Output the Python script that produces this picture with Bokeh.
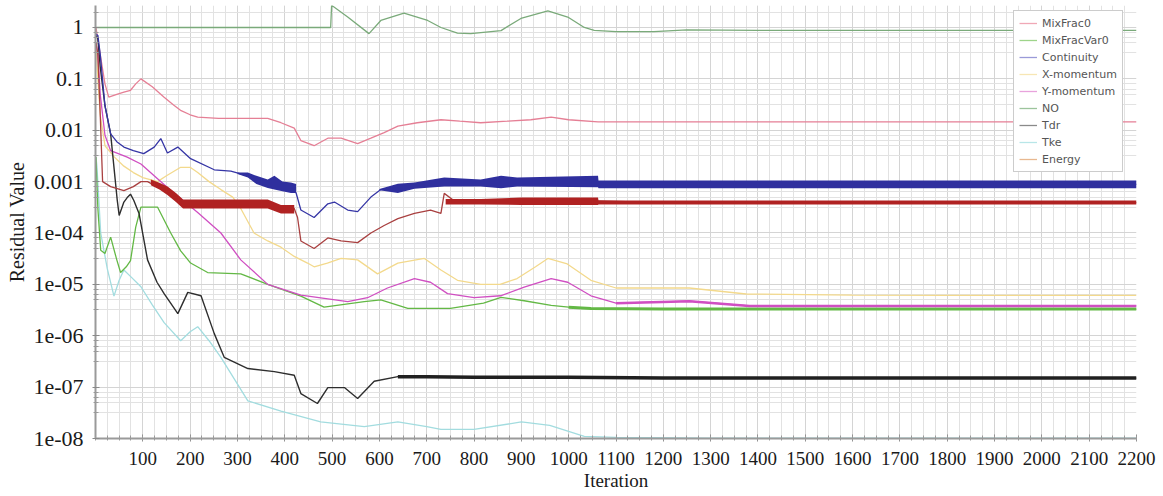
from bokeh.plotting import figure
from bokeh.models import (FixedTicker, CustomJSTickFormatter, Legend, LegendItem, Range1d)
from bokeh.embed import file_html
from bokeh.resources import INLINE

# ---------------- data ----------------
no_it = [1, 497, 499, 533, 578, 603, 652, 702, 730, 765, 793, 857, 899, 956, 998, 1033, 1054, 1100, 1180, 1250, 1400, 1600, 1800, 2000, 2200]
no_val = [1.0, 1.0, 2.7, 1.6, 0.76, 1.37, 1.9, 1.37, 1.0, 0.78, 0.76, 0.87, 1.5, 2.1, 1.6, 1.0, 0.88, 0.83, 0.83, 0.9, 0.88, 0.88, 0.88, 0.88, 0.88]

mf_it = [1, 10, 20, 28, 45, 60, 74, 85, 96, 120, 145, 165, 181, 200, 216, 260, 300, 364, 392, 420, 434, 462, 491, 519, 554, 582, 610, 639, 680, 730, 770, 814, 870, 920, 963, 1000, 1062, 1200, 1500, 1800, 2200]
mf_val = [1.0, 0.3, 0.08, 0.044, 0.05, 0.055, 0.06, 0.08, 0.1, 0.07, 0.044, 0.031, 0.024, 0.02, 0.018, 0.017, 0.017, 0.017, 0.014, 0.011, 0.0063, 0.005, 0.007, 0.007, 0.0055, 0.007, 0.009, 0.012, 0.014, 0.016, 0.015, 0.014, 0.015, 0.016, 0.018, 0.016, 0.0145, 0.0145, 0.0145, 0.0145, 0.0145]

mfv_it = [1, 5, 11, 20, 32, 45, 53, 65, 74, 85, 96, 131, 159, 180, 201, 237, 307, 364, 434, 483, 568, 603, 660, 750, 820, 857, 906, 963, 1000, 1047, 1200, 1500, 2200]
mfv_val = [0.003, 3e-4, 4.6e-5, 4e-5, 8.3e-5, 3e-5, 1.7e-5, 2.2e-5, 2.9e-5, 1.3e-4, 3.2e-4, 3.2e-4, 1e-4, 4.5e-5, 2.6e-5, 1.7e-5, 1.6e-5, 1e-5, 5.9e-6, 3.6e-6, 4.6e-6, 5e-6, 3.4e-6, 3.4e-6, 4.3e-6, 5.6e-6, 4.8e-6, 3.9e-6, 3.6e-6, 3.4e-6, 3.3e-6, 3.3e-6, 3.3e-6]

co_it = [1, 5, 10, 20, 32, 45, 60, 80, 102, 124, 138, 152, 174, 201, 251, 286, 322, 364, 413, 424, 434, 462, 491, 505, 533, 554, 582, 603, 639, 674, 737, 814, 900, 1062, 1200, 1600, 2200]
co_val = [0.75, 0.7, 0.3, 0.03, 0.0085, 0.006, 0.0047, 0.004, 0.0035, 0.0047, 0.0069, 0.0036, 0.0047, 0.0028, 0.0017, 0.0016, 0.0013, 0.0009, 0.00075, 0.0006, 0.00028, 0.0002, 0.00037, 0.0004, 0.00028, 0.00026, 0.0005, 0.0007, 0.00075, 0.00085, 0.001, 0.00095, 0.001, 0.001, 0.00088, 0.00088, 0.00088]
co_b1_it = [300, 322, 340, 364, 378, 395, 413, 424]
co_b1_lo = [0.0014, 0.0012, 0.0009, 0.00075, 0.0007, 0.00065, 0.0006, 0.0006]
co_b1_hi = [0.0015, 0.0015, 0.0013, 0.0011, 0.0013, 0.001, 0.00096, 0.0009]
co_b2_it = [600, 639, 674, 737, 814, 857, 891, 1062, 1063, 2200]
co_b2_lo = [0.00068, 0.0006, 0.00073, 0.0008, 0.0008, 0.00074, 0.0008, 0.00078, 0.00074, 0.00074]
co_b2_hi = [0.00072, 0.00091, 0.00096, 0.0012, 0.0011, 0.0013, 0.0012, 0.0013, 0.00105, 0.00105]

xm_it = [1, 5, 10, 20, 40, 60, 80, 100, 131, 150, 180, 200, 216, 240, 265, 290, 307, 335, 364, 392, 420, 448, 462, 490, 519, 554, 596, 639, 695, 730, 765, 814, 855, 891, 930, 956, 997, 1047, 1100, 1255, 1375, 1600, 1800, 2200]
xm_val = [0.5, 0.1, 0.02, 0.005, 0.003, 0.002, 0.0015, 0.0012, 0.001, 0.0013, 0.0019, 0.0019, 0.0015, 0.001, 0.0007, 0.0005, 0.0003, 1e-4, 7e-5, 5.3e-5, 3.5e-5, 2.6e-5, 2.2e-5, 2.6e-5, 3.2e-5, 3e-5, 1.6e-5, 2.6e-5, 3.2e-5, 1.9e-5, 1.2e-5, 1e-5, 1e-5, 1.3e-5, 2.2e-5, 3.2e-5, 2.5e-5, 1.2e-5, 8.5e-6, 8.5e-6, 6.5e-6, 6.2e-6, 6.1e-6, 6.1e-6]

ym_it = [1, 5, 10, 20, 32, 67, 96, 152, 216, 265, 307, 364, 434, 533, 575, 617, 674, 708, 744, 800, 856, 906, 963, 998, 1047, 1100, 1255, 1382, 1600, 2200]
ym_val = [0.5, 0.3, 0.05, 0.008, 0.004, 0.003, 0.0022, 7.7e-4, 2.5e-4, 1e-4, 3e-5, 1e-5, 6.2e-6, 4.6e-6, 5.5e-6, 8.5e-6, 1.3e-5, 1.1e-5, 6.6e-6, 5.5e-6, 6e-6, 8.8e-6, 1.3e-5, 1.1e-5, 6e-6, 4.3e-6, 4.7e-6, 3.8e-6, 3.8e-6, 3.8e-6]

td_it = [1, 5, 10, 20, 32, 46, 50, 60, 67, 74, 81, 92, 110, 130, 145, 174, 195, 223, 251, 272, 322, 378, 420, 434, 469, 491, 526, 554, 589, 639, 700, 800, 1000, 1200, 2200]
td_val = [0.7, 0.6, 0.17, 0.03, 0.0085, 4.3e-4, 2.2e-4, 4e-4, 4.9e-4, 5.7e-4, 4.3e-4, 2.4e-4, 3e-5, 1.1e-5, 6.6e-6, 2.7e-6, 7e-6, 6e-6, 1.1e-6, 3.8e-7, 2.3e-7, 2e-7, 1.7e-7, 7.5e-8, 4.8e-8, 9.8e-8, 9.8e-8, 6e-8, 1.3e-7, 1.6e-7, 1.6e-7, 1.55e-7, 1.55e-7, 1.5e-7, 1.5e-7]

tk_it = [1, 3, 11, 25, 39, 50, 60, 75, 96, 120, 145, 180, 200, 216, 240, 265, 322, 392, 476, 568, 639, 700, 730, 800, 900, 960, 1033, 1100, 1300, 2200]
tk_val = [0.003, 0.002, 1e-4, 2e-5, 5.9e-6, 1.2e-5, 1.9e-5, 1.4e-5, 9e-6, 4e-6, 1.8e-6, 8e-7, 1.2e-6, 1.5e-6, 8e-7, 3.8e-7, 5.4e-8, 3.4e-8, 2.1e-8, 1.7e-8, 2.1e-8, 1.7e-8, 1.5e-8, 1.5e-8, 2.1e-8, 1.8e-8, 1.1e-8, 1.05e-8, 1.02e-8, 1.02e-8]

en_it = [1, 5, 10, 15, 32, 60, 80, 96, 110, 130, 152, 181, 251, 364, 392, 420, 427, 434, 462, 491, 519, 554, 582, 610, 639, 674, 708, 730, 737, 760, 814, 900, 1062, 1200, 2200]
en_val = [0.5, 0.3, 0.02, 0.001, 0.0008, 0.00067, 0.0008, 0.001, 0.001, 0.0008, 0.00065, 0.00038, 0.00037, 0.00037, 0.0003, 0.0003, 0.0002, 7e-5, 5e-5, 8e-5, 7e-5, 6.5e-5, 1e-4, 1.4e-4, 1.9e-4, 2.4e-4, 2.8e-4, 2.4e-4, 5.9e-4, 4.1e-4, 4.1e-4, 4.2e-4, 4.2e-4, 3.9e-4, 3.9e-4]
en_b1_it = [117, 135, 152, 170, 185, 251, 300, 364, 392, 420]
en_b1_lo = [0.00085, 0.0007, 0.00055, 0.0004, 0.0003, 0.0003, 0.0003, 0.0003, 0.00024, 0.00024]
en_b1_hi = [0.0011, 0.00095, 0.0008, 0.0006, 0.00045, 0.00045, 0.00045, 0.00045, 0.00035, 0.00035]
en_b2_it = [740, 814, 900, 1062, 1063, 2200]
en_b2_lo = [0.00036, 0.00036, 0.00035, 0.00035, 0.00036, 0.00036]
en_b2_hi = [0.00046, 0.00046, 0.00049, 0.00049, 0.00043, 0.00043]

names = ["MixFrac0", "MixFracVar0", "Continuity", "X-momentum", "Y-momentum", "NO", "Tdr", "Tke", "Energy"]
x_ticks = list(range(100, 2201, 100))
y_ticks = [1e-8, 1e-7, 1e-6, 1e-5, 1e-4, 1e-3, 1e-2, 1e-1, 1.0]

# ---------------- figure ----------------
p = figure(width=1163, height=496, y_axis_type="log", output_backend="svg", toolbar_location=None,
           x_range=Range1d(0, 2200), y_range=Range1d(1e-8, 2.68),
           min_border_left=95, min_border_right=27, min_border_top=5, min_border_bottom=58)
p.outline_line_color = None
p.background_fill_color = "white"

minor_y = []
for d in y_ticks[:-1]:
    for m in (3.2, 5.0, 6.3, 8.0):
        minor_y.append(d * m)
minor_y += [2.0]
p.yaxis.ticker = FixedTicker(ticks=y_ticks, minor_ticks=minor_y)
p.xaxis.ticker = FixedTicker(ticks=x_ticks, minor_ticks=list(range(0, 2201, 25)))
p.yaxis.formatter = CustomJSTickFormatter(code="""
const e = Math.round(Math.log10(tick));
if (e >= -3) { return (Math.pow(10, e)).toFixed(Math.max(0, -e)); }
const n = -e;
return "1e-" + (n < 10 ? "0" + n : String(n));
""")

for ax in (p.xaxis, p.yaxis):
    ax.axis_line_color = "#9a9a9a"
    ax.axis_line_width = 2
    ax.major_tick_line_color = "#8a8a8a"
    ax.minor_tick_line_color = "#9a9a9a"
    ax.major_label_text_font = "Liberation Serif"
    ax.axis_label_text_font = "Liberation Serif"
    ax.axis_label_text_font_style = "normal"
    ax.major_label_text_color = "#1a1a1a"
    ax.axis_label_text_color = "#1a1a1a"

p.xaxis.major_tick_in = 4
p.xaxis.major_tick_out = 3
p.xaxis.minor_tick_in = 3
p.xaxis.minor_tick_out = 2
p.xaxis.major_label_standoff = 10
p.xaxis.major_label_text_font_size = "19px"
p.xaxis.axis_label = "Iteration"
p.xaxis.axis_label_text_font_size = "19px"
p.xaxis.axis_label_standoff = 2

p.yaxis.major_tick_in = 4
p.yaxis.major_tick_out = 3
p.yaxis.minor_tick_in = 3
p.yaxis.minor_tick_out = 2
p.yaxis.major_label_standoff = 9
p.yaxis.major_label_text_font_size = "22px"
p.yaxis.axis_label = "Residual Value"
p.yaxis.axis_label_text_font_size = "20px"
p.yaxis.axis_label_standoff = 2

p.xgrid.grid_line_color = "#d4d4d4"
p.ygrid.grid_line_color = "#d4d4d4"
p.xgrid.minor_grid_line_color = "#e2e2e2"
p.ygrid.minor_grid_line_color = "#e2e2e2"

colors = {
    "MixFrac0": "#e57f95",
    "MixFracVar0": "#63b845",
    "Continuity": "#3535a5",
    "X-momentum": "#f3d98c",
    "Y-momentum": "#d04fc2",
    "NO": "#7aaa7a",
    "Tdr": "#2e2e2e",
    "Tke": "#a2dcdf",
    "Energy": "#a94040",
}

r = {}
r["NO"] = p.line(no_it, no_val, line_color=colors["NO"], line_width=1.3)
r["MixFrac0"] = p.line(mf_it, mf_val, line_color=colors["MixFrac0"], line_width=1.3)
r["X-momentum"] = p.line(xm_it, xm_val, line_color=colors["X-momentum"], line_width=1.3)
r["Tke"] = p.line(tk_it, tk_val, line_color=colors["Tke"], line_width=1.3)
r["MixFracVar0"] = p.line(mfv_it, mfv_val, line_color=colors["MixFracVar0"], line_width=1.3)
k = mfv_it.index(1000)
p.line(mfv_it[k:], mfv_val[k:], line_color=colors["MixFracVar0"], line_width=3)
r["Y-momentum"] = p.line(ym_it, ym_val, line_color=colors["Y-momentum"], line_width=1.3)
k = ym_it.index(1100)
p.line(ym_it[k:], ym_val[k:], line_color=colors["Y-momentum"], line_width=2.5)
r["Tdr"] = p.line(td_it, td_val, line_color=colors["Tdr"], line_width=1.4)
k = td_it.index(639)
p.line(td_it[k:], td_val[k:], line_color="#202020", line_width=3.5)
r["Energy"] = p.line(en_it, en_val, line_color=colors["Energy"], line_width=1.3)
p.varea(x=en_b1_it, y1=en_b1_lo, y2=en_b1_hi, fill_color="#b02222")
p.varea(x=en_b2_it, y1=en_b2_lo, y2=en_b2_hi, fill_color="#b02222")
r["Continuity"] = p.line(co_it, co_val, line_color=colors["Continuity"], line_width=1.3)
p.varea(x=co_b1_it, y1=co_b1_lo, y2=co_b1_hi, fill_color="#2f2f9e")
p.varea(x=co_b2_it, y1=co_b2_lo, y2=co_b2_hi, fill_color="#2f2f9e")

# legend (glyphs drawn in paler colours like the reference)
legend_colors = ["#f0a8b6", "#9ed48a", "#9a9ad8", "#f7e6b4", "#e8a3dc", "#9cc49c", "#8a8a8a", "#b8e6e8", "#e8b890"]
items = []
for n, c in zip(names, legend_colors):
    dummy = p.line([0], [1], line_color=c, line_width=1.3, visible=False)
    items.append(LegendItem(label=n, renderers=[dummy]))
legend = Legend(items=items, location="top_right")
legend.margin = 0
legend.padding = 5
legend.spacing = 3
legend.label_height = 14
legend.glyph_height = 14
legend.glyph_width = 18
legend.label_standoff = 5
legend.label_text_font = "DejaVu Sans"
legend.label_text_font_size = "11px"
legend.label_text_color = "#555555"
legend.border_line_color = "#9a9a9a"
legend.border_line_width = 1
legend.background_fill_alpha = 1.0
p.add_layout(legend)
legend.location = (918, 266)

open("out.html", "w").write(file_html(p, INLINE))
